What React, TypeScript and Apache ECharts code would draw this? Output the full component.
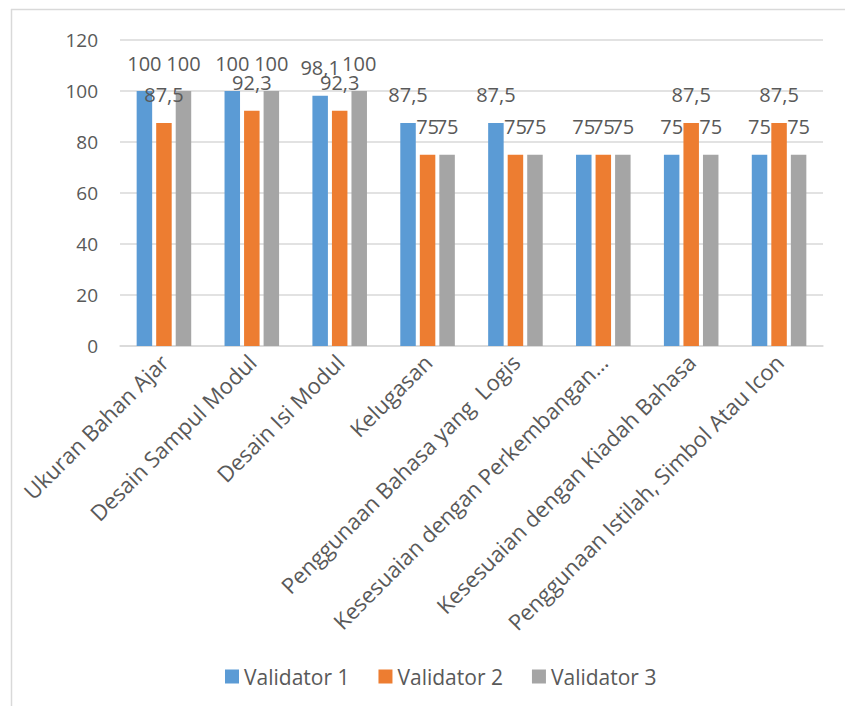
import React, { useEffect, useRef } from "react";
import * as echarts from "echarts";

const categories = [
  "Ukuran Bahan Ajar",
  "Desain Sampul Modul",
  "Desain Isi Modul",
  "Kelugasan",
  "Penggunaan Bahasa yang  Logis",
  "Kesesuaian dengan Perkembangan...",
  "Kesesuaian dengan Kiadah Bahasa",
  "Penggunaan Istilah, Simbol Atau Icon",
];
const validator1 = [100, 100, 98.1, 87.5, 87.5, 75, 75, 75];
const validator2 = [87.5, 92.3, 92.3, 75, 75, 75, 87.5, 87.5];
const validator3 = [100, 100, 100, 75, 75, 75, 75, 75];
const seriesNames = ["Validator 1", "Validator 2", "Validator 3"];
const colors = ["#5B9BD5", "#ED7D31", "#A5A5A5"];
const yTicks = { min: 0, max: 120, interval: 20 };

const FONT = "'Open Sans', sans-serif";
const TEXT = "#595959";

export default function App() {
  const ref = useRef<HTMLDivElement>(null);
  useEffect(() => {
    if (!ref.current) return;
    const chart = echarts.init(ref.current, null, { renderer: "svg" });
    const mk = (name: string, data: number[], color: string) => ({
      name,
      type: "bar",
      data,
      barWidth: 15.5,
      barGap: "26%",
      itemStyle: { color },
      label: {
        show: true,
        position: "top",
        distance: 18,
        color: TEXT,
        fontFamily: FONT,
        fontSize: 20,
        formatter: (p: any) => String(p.value).replace(".", ","),
      },
    });
    chart.setOption({
      animation: false,
      backgroundColor: "#fff",
      textStyle: { fontFamily: FONT },
      grid: { left: 120, right: 22, top: 40, bottom: 360, containLabel: false },
      legend: {
        data: seriesNames,
        left: 220,
        top: 661,
        itemWidth: 14,
        itemHeight: 14,
        itemGap: 29,
        icon: "rect",
        textStyle: { color: TEXT, fontFamily: FONT, fontSize: 21 },
      },
      xAxis: {
        type: "category",
        data: categories,
        axisTick: { show: false },
        axisLine: { lineStyle: { color: "#D9D9D9", width: 1.5 } },
        axisLabel: {
          interval: 0,
          rotate: 45,
          margin: 12,
          color: TEXT,
          fontFamily: FONT,
          fontSize: 22,
        },
      },
      yAxis: {
        type: "value",
        min: yTicks.min,
        max: yTicks.max,
        interval: yTicks.interval,
        axisLine: { show: false },
        axisTick: { show: false },
        splitLine: { lineStyle: { color: "#D9D9D9", width: 1.5 } },
        axisLabel: { margin: 22, color: TEXT, fontFamily: FONT, fontSize: 19 },
      },
      graphic: [
        {
          type: "line",
          shape: { x1: 11, y1: 9.5, x2: 845, y2: 9.5 },
          style: { stroke: "#D9D9D9", lineWidth: 1.5 },
          silent: true,
        },
        {
          type: "line",
          shape: { x1: 11.5, y1: 9, x2: 11.5, y2: 706 },
          style: { stroke: "#D9D9D9", lineWidth: 1.5 },
          silent: true,
        },
      ],
      series: [
        mk(seriesNames[0], validator1, colors[0]),
        mk(seriesNames[1], validator2, colors[1]),
        mk(seriesNames[2], validator3, colors[2]),
      ],
    });
    return () => chart.dispose();
  }, []);
  return (
    <div
      ref={ref}
      style={{ position: "absolute", left: 0, top: 0, width: 845, height: 706 }}
    />
  );
}
